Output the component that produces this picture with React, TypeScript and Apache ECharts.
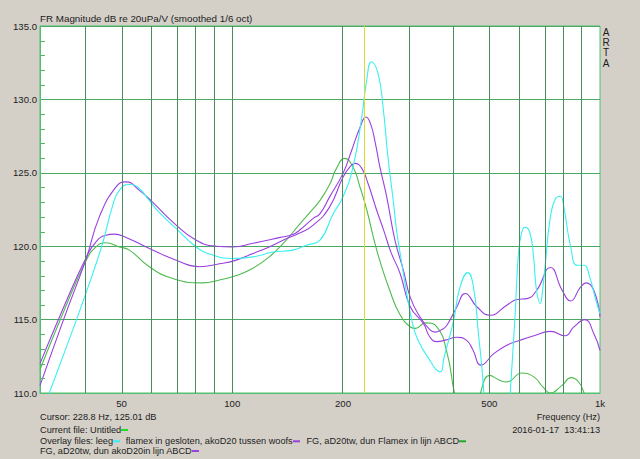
import React, { useEffect, useRef } from "react";
import * as echarts from "echarts";

// ---- axes / ticks ----
const gridFreqs = [40, 50, 60, 70, 80, 90, 100, 200, 300, 400, 500, 600, 700, 800, 900];
const freqTickLabels = [50, 100, 200, 500, 1000];
const freqMin = 30;
const freqMax = 1000;
const dbMin = 110;
const dbMax = 135;
const dbStep = 5;
const dbMinorTicks = [111, 112, 113, 114, 116, 117, 118, 119, 121, 122, 123, 124, 126, 127, 128, 129, 131, 132, 133, 134];
const cursorFreq = 228.8;

// ---- series: "leeg" (cyan) ----
const leegHz = [30, 35, 40, 44.4, 47.2, 49.3, 52.5, 55.5, 59.5, 63.3, 70.4, 79.8, 88.5, 100, 114, 129, 146, 159, 173, 188, 200, 213, 225, 232, 239, 249, 257, 265, 274, 280, 287, 298, 310, 320, 338, 368, 376, 400, 416, 437, 453, 467, 477, 483, 490, 530, 562, 570, 588, 600, 612, 625, 645, 660, 672, 688, 698, 710, 733, 757, 780, 797, 832, 867, 905, 935, 975, 1000];
const leegDb = [108.3, 112.8, 116.8, 120.2, 122.7, 123.8, 124.2, 124.0, 123.1, 122.3, 121.2, 119.95, 119.4, 119.16, 119.27, 119.6, 119.73, 120.07, 120.4, 122.2, 123.36, 125.4, 128.8, 131.3, 132.56, 131.77, 129.5, 126.1, 123.1, 121.0, 119.3, 116.8, 114.6, 113.6, 112.55, 111.45, 112.35, 114.96, 117.2, 118.2, 117.2, 114.05, 111.8, 110.0, 107.5, 103.5, 107.5, 110.0, 115.4, 119.5, 120.9, 121.3, 120.9, 119.2, 117.0, 116.1, 117.0, 118.8, 122.0, 123.25, 123.4, 122.7, 119.95, 118.7, 118.7, 118.0, 116.3, 115.4];

// ---- series: "flamex in gesloten, akoD20 tussen woofs" (purple) ----
const flamexHz = [30, 35, 40, 43.5, 48.3, 51.4, 55.9, 60.7, 68.8, 79.8, 90.4, 100, 114, 135, 146, 152.5, 166, 173, 184, 200, 211, 222.6, 231, 238, 245, 252, 263, 277, 292, 305, 324, 345, 356, 370, 383, 408, 430, 463, 502, 558, 595, 633, 673, 733, 789, 832, 884, 918, 962, 1000];
const flamexDb = [110.5, 115.2, 119.1, 122.0, 124.04, 124.38, 123.8, 123.0, 121.66, 120.4, 120.0, 119.95, 120.2, 120.6, 120.8, 121.1, 121.9, 122.2, 123.36, 124.96, 126.5, 128.1, 128.8, 128.3, 127.0, 125.4, 123.36, 120.4, 118.36, 116.5, 115.18, 114.3, 114.15, 114.3, 114.6, 115.86, 116.78, 115.86, 115.3, 115.98, 116.37, 116.43, 117.0, 118.55, 117.0, 116.27, 117.2, 117.5, 117.0, 115.2];

// ---- series: "FG, aD20tw, dun Flamex in lijn ABCD" (green) ----
const fgFlamexHz = [30, 35, 40, 42.6, 45.3, 49.3, 52.5, 59.5, 68.8, 83, 92.3, 102.5, 113.8, 126, 140, 152.5, 162, 173, 184, 192, 202, 213, 222, 232, 242, 252, 268, 285, 305, 315, 335, 360, 384, 402, 420, 445, 465, 473, 502, 530, 558, 613, 661, 700, 733, 787, 835, 875, 905, 950, 1000];
const fgFlamexDb = [111.6, 115.7, 119.0, 119.95, 120.23, 119.95, 119.73, 118.6, 117.8, 117.5, 117.7, 118.0, 118.5, 119.27, 120.4, 121.5, 122.25, 123.1, 124.2, 125.3, 125.98, 125.4, 124.1, 122.5, 120.6, 119.0, 117.0, 115.4, 114.5, 114.4, 114.78, 114.5, 112.7, 110.0, 108.3, 107.5, 108.8, 110.0, 111.2, 110.9, 110.75, 111.36, 111.1, 110.4, 110.0, 110.5, 111.05, 110.75, 110.0, 108.5, 107.5];

// ---- series: "FG, aD20tw, dun akoD20in lijn ABCD" (purple) ----
const fgAkoHz = [30, 35, 40, 42.6, 45.3, 47.7, 51.4, 59.5, 70.4, 81.4, 92.3, 102.5, 113.8, 126, 140, 152.5, 166, 184, 200, 209, 215.6, 225, 234, 247, 258, 270, 286, 305, 331, 345, 360, 380, 408, 433, 450, 475, 515, 558, 607, 661, 733, 804, 849, 909, 962, 1000];
const fgAkoDb = [112.0, 116.0, 119.2, 120.3, 120.75, 120.82, 120.6, 119.84, 119.05, 118.6, 118.8, 119.05, 119.5, 119.95, 120.5, 120.9, 121.43, 122.68, 124.7, 125.4, 125.64, 125.3, 124.27, 122.45, 121.1, 119.6, 118.14, 115.86, 114.73, 113.8, 113.5, 113.6, 113.8, 113.6, 113.0, 111.9, 112.7, 113.25, 113.6, 113.9, 114.2, 113.9, 114.5, 115.0, 114.05, 112.9];

const CYAN = "#38f0f0";
const PURPLE = "#9a3fe0";
const GREEN = "#4fbb4f";
const TXT = "#1c1c1c";
const FONT = '9.2px "Liberation Sans", Arial, sans-serif';

const xMin = Math.log10(freqMin);
const xMax = Math.log10(freqMax);

const toPts = (hz: number[], db: number[]) => hz.map((f, i) => [Math.log10(f), db[i]]);

const curve = (name: string, hz: number[], db: number[], color: string) => ({
  name,
  type: "line",
  data: toPts(hz, db),
  showSymbol: false,
  symbol: "none",
  smooth: 0.5,
  clip: true,
  z: 3,
  lineStyle: { color, width: 1.1 },
  itemStyle: { color },
  silent: true,
});

const txt = (text: string, x: number, y: number, align = "left") => ({
  type: "text",
  x,
  y,
  silent: true,
  style: { text, fill: TXT, font: FONT, align, verticalAlign: "middle" },
});
const dash = (x: number, y: number, color: string) => ({
  type: "line",
  silent: true,
  shape: { x1: x, y1: y, x2: x + 7, y2: y },
  style: { stroke: color, lineWidth: 2 },
});

export default function App() {
  const ref = useRef<HTMLDivElement>(null);
  useEffect(() => {
    if (!ref.current) return;
    const chart = echarts.init(ref.current, undefined, { renderer: "svg" });
    const graphics: any[] = [
      {
        type: "text",
        x: 606,
        y: 27,
        silent: true,
        style: { text: "A\nR\nT\nA", fill: TXT, font: '10px "Liberation Sans", Arial, sans-serif', align: "center", verticalAlign: "top", lineHeight: 10.3 },
      },
      txt("Cursor: 228.8 Hz, 125.01 dB", 40, 416.7),
      txt("Frequency (Hz)", 600, 416.7, "right"),
      txt("Current file: Untitled", 40, 430),
      dash(121, 430, "#22dd22"),
      txt("2016-01-17  13:41:13", 600, 430, "right"),
      txt("Overlay files: leeg", 40, 441.3),
      dash(113, 441.3, CYAN),
      txt("flamex in gesloten, akoD20 tussen woofs", 125.7, 441.3),
      dash(293, 441.3, PURPLE),
      txt("FG, aD20tw, dun Flamex in lijn ABCD", 306.5, 441.3),
      dash(459, 441.3, "#22aa22"),
      txt("FG, aD20tw, dun akoD20in lijn ABCD", 40, 451),
      dash(192, 451, PURPLE),
    ];
    const option: any = {
      animation: false,
      backgroundColor: "#d4d0c8",
      textStyle: { fontFamily: '"Liberation Sans", Arial, sans-serif' },
      title: {
        text: "FR Magnitude dB re 20uPa/V (smoothed 1/6 oct)",
        left: 40,
        top: 13,
        padding: 0,
        textStyle: { fontSize: 9.8, fontWeight: "normal", color: TXT, fontFamily: '"Liberation Sans", Arial, sans-serif' },
      },
      grid: {
        left: 40,
        right: 40,
        top: 26,
        bottom: 66,
        show: true,
        backgroundColor: "#ffffff",
        borderColor: "#52c070",
        borderWidth: 1,
      },
      xAxis: {
        type: "value",
        min: xMin,
        max: xMax,
        axisLine: { show: true, lineStyle: { color: "#52c070" } },
        axisTick: { show: false },
        splitLine: { show: false },
        axisLabel: {
          customValues: freqTickLabels.map((f) => Math.log10(f)),
          showMinLabel: true,
          showMaxLabel: true,
          margin: 5,
          color: TXT,
          fontSize: 9.6,
          formatter: (v: number) => {
            const f = Math.round(Math.pow(10, v));
            return f >= 1000 ? f / 1000 + "k" : String(f);
          },
        },
      },
      yAxis: {
        type: "value",
        min: dbMin,
        max: dbMax,
        interval: dbStep,
        axisLine: { show: true, lineStyle: { color: "#52c070" } },
        axisTick: { show: false },
        splitLine: { show: true, lineStyle: { color: "#4aa862", width: 1 } },
        axisLabel: {
          margin: 3,
          color: TXT,
          fontSize: 9.6,
          formatter: (v: number) => v.toFixed(1),
        },
      },
      series: [
        {
          name: "grid",
          type: "line",
          data: [],
          z: 1,
          silent: true,
          markLine: {
            silent: true,
            symbol: ["none", "none"],
            label: { show: false },
            animation: false,
            lineStyle: { color: "#4a8a5e", width: 1, type: "solid" },
            data: gridFreqs.map((f) => ({ xAxis: Math.log10(f) })),
          },
        },
        {
          name: "cursor",
          type: "line",
          data: [],
          z: 2,
          silent: true,
          markLine: {
            silent: true,
            symbol: ["none", "none"],
            label: { show: false },
            animation: false,
            lineStyle: { color: "#dcdc30", width: 1, type: "solid" },
            data: [{ xAxis: Math.log10(cursorFreq) }],
          },
        },
        curve("FG, aD20tw, dun Flamex in lijn ABCD", fgFlamexHz, fgFlamexDb, GREEN),
        curve("FG, aD20tw, dun akoD20in lijn ABCD", fgAkoHz, fgAkoDb, PURPLE),
        curve("flamex in gesloten, akoD20 tussen woofs", flamexHz, flamexDb, PURPLE),
        curve("leeg", leegHz, leegDb, CYAN),
      ],
      graphic: graphics,
    };
    chart.setOption(option);
    // minor y ticks, placed through the chart's own y scale
    try {
      const x0 = chart.convertToPixel({ xAxisIndex: 0 }, xMin) as unknown as number;
      const ticks = dbMinorTicks.map((v) => {
        const y = Math.round(chart.convertToPixel({ yAxisIndex: 0 }, v) as unknown as number) + 0.5;
        return {
          type: "line",
          silent: true,
          z: 10,
          shape: { x1: x0, y1: y, x2: x0 + 5, y2: y },
          style: { stroke: "#4fb866", lineWidth: 1 },
        };
      });
      if (isFinite(x0) && ticks.every((t) => isFinite(t.shape.y1))) {
        chart.setOption({ graphic: [...graphics, ...ticks] });
      }
    } catch (e) {
      /* ignore */
    }
    return () => chart.dispose();
  }, []);
  return <div ref={ref} style={{ position: "fixed", left: 0, top: 0, width: 640, height: 459 }} />;
}
